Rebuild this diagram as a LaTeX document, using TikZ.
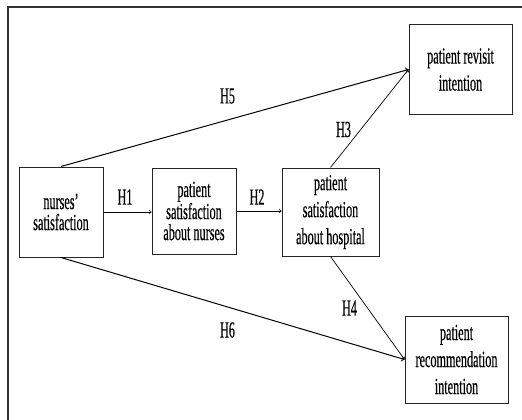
\documentclass[tikz,border=0pt]{standalone}
\usepackage{fontspec}
\newfontfamily\boxfont[FakeStretch=0.53,FakeBold=0.4]{Liberation Serif}
\usetikzlibrary{arrows,positioning}
\tikzset{
  factor/.style={draw=black!85, line width=1pt, inner sep=0pt, align=center,
    font=\boxfont\fontsize{23}{21}\selectfont},
  loose/.style={font=\boxfont\fontsize{23}{27}\selectfont},
  hyp/.style={inner sep=0pt, font=\boxfont\fontsize{23}{21}\selectfont},
  link/.style={arrows=->, line width=0.7pt},
  longlink/.style={arrows=->, line width=1pt},
}
\begin{document}
\begin{tikzpicture}[x=1pt,y=-1pt]
	\useasboundingbox (0,0) rectangle (522,420);
	\draw[line width=1.2pt, black!80] (8,420) -- (8,7) -- (522,7);
	
	\node[factor, minimum width=84, minimum height=90] (ns) at (61,212) {nurses’\\satisfaction};
	\node[factor, minimum width=84, minimum height=86] (psn) at (194,211) {patient\\satisfaction\\about nurses};
	\node[factor, loose, minimum width=97, minimum height=88] (psh) at (330.5,212) {patient\\satisfaction\\about hospital};
	\node[factor, loose, minimum width=103, minimum height=89] (rv) at (460.5,69.5) {patient revisit\\intention};
	\node[factor, loose, minimum width=103, minimum height=87] (rc) at (456.5,359.5) {patient\\recommendation\\intention};
	
	% hypotheses
	\draw[link] (ns.east) -- (ns.east -| psn.west);
	\draw[link] (psn.east) -- (psn.east -| psh.west);
	\draw[link] (psh.north) -- (rv.west);
	\draw[link] (psh.south) -- (rc.west);
	\draw[longlink] (ns.north) -- (rv.west);
	\draw[longlink] (ns.south) -- (rc.west);
	
	\node[hyp] (h1) at (125,197) {H1};
	\node[hyp] (h2) at (257,197) {H2};
	\node[hyp] (h3) at (343.5,129.5) {H3};
	\node[hyp] (h4) at (349.5,308) {H4};
	\node[hyp] (h5) at (227.5,96) {H5};
	\node[hyp] (h6) at (227.5,330) {H6};
\end{tikzpicture}
\end{document}
